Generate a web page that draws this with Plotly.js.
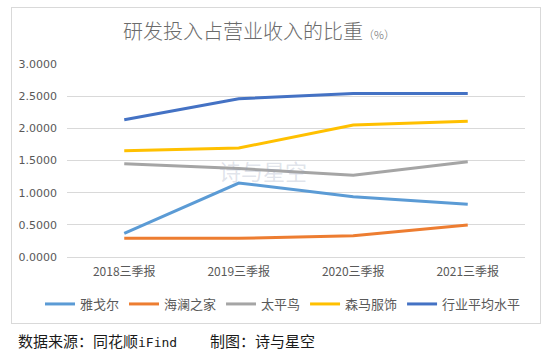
<!DOCTYPE html>
<html><head><meta charset="utf-8">
<script src="https://cdn.plot.ly/plotly-3.0.1.min.js"></script>
<style>
html,body{margin:0;padding:0;background:#fff;}
#frame{position:absolute;left:11px;top:7px;width:530px;height:317px;border:1px solid #D9D9D9;box-sizing:border-box;}
#chart{position:absolute;left:0;top:0;width:554px;height:352px;}
</style></head>
<body>
<div id="frame"></div>
<div id="chart"></div>
<script>
const categories = ['2018三季报','2019三季报','2020三季报','2021三季报'];
const seriesNames = ['雅戈尔','海澜之家','太平鸟','森马服饰','行业平均水平'];
const yageer = [0.367, 1.15, 0.935, 0.82];
const hailan = [0.29, 0.29, 0.33, 0.496];
const taipingniao = [1.45, 1.375, 1.27, 1.48];
const senma = [1.65, 1.695, 2.05, 2.11];
const industryAvg = [2.135, 2.46, 2.54, 2.54];
const yTicks = [0, 0.5, 1.0, 1.5, 2.0, 2.5, 3.0];
const colors = ['#5B9BD5','#ED7D31','#A5A5A5','#FFC000','#4472C4'];

const values = [yageer, hailan, taipingniao, senma, industryAvg];
const traces = values.map((v,i)=>({
  type:'scatter', mode:'lines', x:categories, y:v, name:seriesNames[i],
  line:{color:colors[i], width:3}, hoverinfo:'skip'
}));

const W=554,H=352,L=67,R=29,T=64,B=95;
const px=(x)=>(x-L)/(W-L-R);
const py=(y)=>1-(y-T)/(H-T-B);

const layout = {
  width:W, height:H,
  margin:{l:L,r:R,t:T,b:B,pad:0},
  paper_bgcolor:'rgba(0,0,0,0)', plot_bgcolor:'rgba(0,0,0,0)',
  font:{family:'"Noto Sans CJK SC", "DejaVu Sans", sans-serif', color:'#595959', size:11},
  title:{text:'研发投入占营业收入的比重<span style="font-size:11px">（%）</span>',
    x:259/W, xanchor:'center', y:1-32/H, yanchor:'middle',
    font:{size:20, color:'#6b6b6b', family:'"Noto Sans CJK SC", sans-serif', weight:300}},
  xaxis:{type:'category', range:[-0.5,3.5], showgrid:false, showline:false, zeroline:false, ticks:'',
    tickfont:{size:12, color:'#595959'}, ticklabelstandoff:6, fixedrange:true},
  yaxis:{range:[0,3.0], tickvals:yTicks, tickformat:'.4f', showgrid:true,
    gridcolor:'#D9D9D9', gridwidth:1, zeroline:true, zerolinecolor:'#D9D9D9', zerolinewidth:1,
    showline:false, ticks:'', ticklabelstandoff:9,
    tickfont:{size:11, color:'#595959', family:'"DejaVu Sans", sans-serif'}, fixedrange:true},
  showlegend:true,
  legend:{orientation:'h', x:px(40), xanchor:'left', y:py(304), yanchor:'middle',
    font:{size:13, color:'#595959'}, itemwidth:30, tracegroupgap:0, bgcolor:'rgba(0,0,0,0)'},
  annotations:[
    {text:'数据来源：同花顺<span style="font-family:\'DejaVu Sans Mono\', monospace;font-size:13px">iFind</span>', xref:'paper', yref:'paper', x:px(16), y:py(340),
     xanchor:'left', yanchor:'middle', showarrow:false,
     font:{size:15, color:'#1a1a1a', family:'"Noto Sans CJK SC", sans-serif'}},
    {text:'制图：诗与星空', xref:'paper', yref:'paper', x:px(208), y:py(340),
     xanchor:'left', yanchor:'middle', showarrow:false,
     font:{size:15, color:'#1a1a1a', family:'"Noto Sans CJK SC", sans-serif'}},
    {text:'诗与星空', xref:'paper', yref:'paper', x:px(263), y:py(170),
     xanchor:'center', yanchor:'middle', showarrow:false,
     font:{size:22, color:'rgba(150,160,185,0.3)', family:'"Noto Sans CJK SC", serif'}}
  ]
};
Plotly.newPlot('chart', traces, layout, {displayModeBar:false, staticPlot:true});
</script>
</body></html>
